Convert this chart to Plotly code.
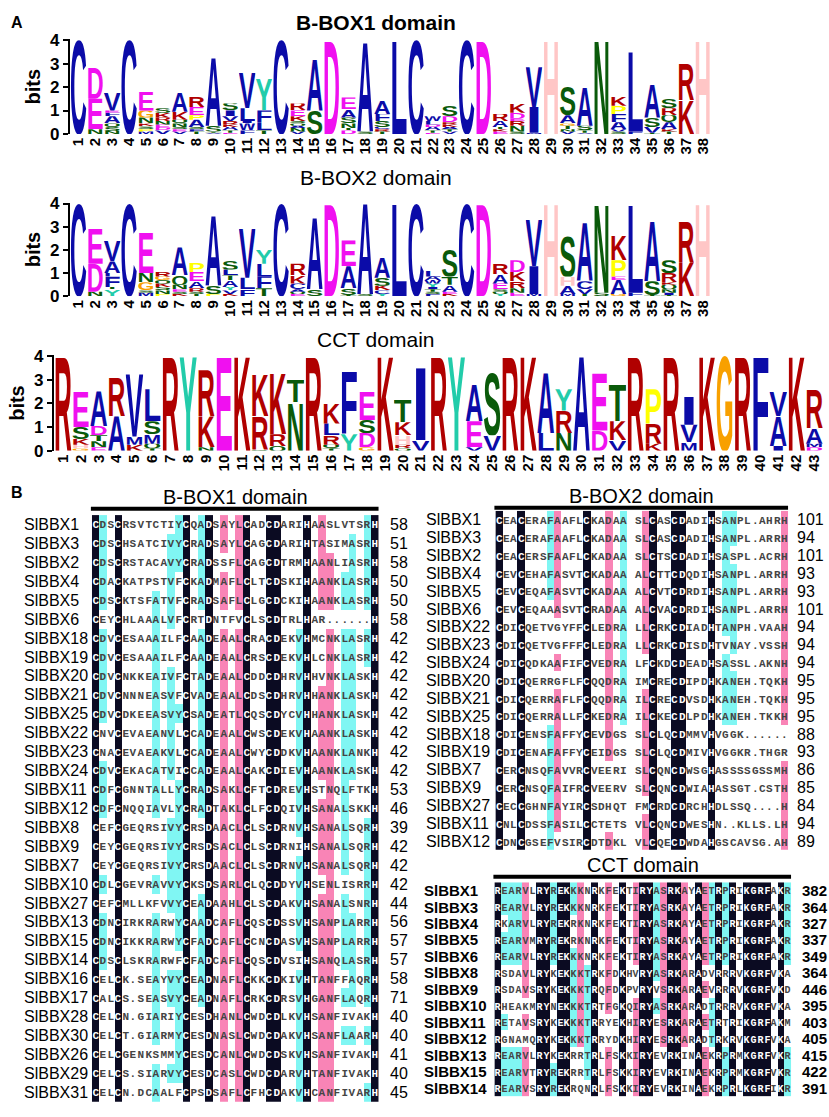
import base64
import plotly.graph_objects as go

W, H = 829, 1117

# ---------------------------------------------------------------- logo data
# one entry per position: residues stacked bottom -> top, height in bits
BBOX1_LOGO = [
    [("C", 4.0)],
    [("N", 0.2), ("E", 1.3), ("D", 1.35)],
    [("N", 0.12), ("S", 0.18), ("Q", 0.15), ("A", 0.3), ("F", 0.15), ("E", 0.1), ("V", 0.75)],
    [("C", 4.0)],
    [("M", 0.1), ("P", 0.1), ("S", 0.12), ("K", 0.13), ("N", 0.25), ("G", 0.3), ("E", 0.8)],
    [("V", 0.15), ("D", 0.1), ("E", 0.15), ("N", 0.15), ("R", 0.15), ("K", 0.2), ("S", 0.2)],
    [("V", 0.1), ("E", 0.1), ("S", 0.1), ("N", 0.15), ("Q", 0.15), ("K", 0.35), ("A", 0.85)],
    [("T", 0.1), ("F", 0.1), ("S", 0.1), ("A", 0.3), ("P", 0.2), ("E", 0.35), ("R", 0.45)],
    [("V", 0.05), ("T", 0.05), ("S", 0.25), ("A", 2.95)],
    [("E", 0.05), ("T", 0.1), ("A", 0.15), ("K", 0.1), ("R", 0.15), ("V", 0.2), ("I", 0.25), ("S", 0.3)],
    [("F", 0.15), ("W", 0.3), ("I", 0.1), ("L", 0.55), ("V", 1.5)],
    [("T", 0.15), ("L", 0.35), ("F", 0.5), ("Y", 1.35)],
    [("C", 4.0)],
    [("V", 0.1), ("N", 0.15), ("A", 0.1), ("Q", 0.1), ("S", 0.1), ("K", 0.2), ("E", 0.25), ("R", 0.3)],
    [("S", 1.0), ("A", 2.2)],
    [("D", 4.0)],
    [("D", 0.15), ("T", 0.1), ("N", 0.2), ("S", 0.25), ("A", 0.35), ("E", 0.5)],
    [("S", 0.1), ("A", 3.8)],
    [("T", 0.1), ("R", 0.1), ("C", 0.1), ("S", 0.25), ("F", 0.3), ("A", 0.55)],
    [("L", 4.0)],
    [("C", 4.0)],
    [("E", 0.05), ("T", 0.1), ("A", 0.15), ("D", 0.1), ("L", 0.15), ("W", 0.2)],
    [("V", 0.1), ("T", 0.1), ("A", 0.1), ("K", 0.1), ("R", 0.1), ("D", 0.25), ("S", 0.45)],
    [("C", 4.0)],
    [("D", 4.0)],
    [("E", 0.1), ("K", 0.1), ("T", 0.1), ("A", 0.25), ("R", 0.3)],
    [("S", 0.1), ("N", 0.25), ("R", 0.2), ("E", 0.1), ("D", 0.25), ("K", 0.4)],
    [("M", 0.05), ("I", 1.1), ("V", 1.7)],
    [("H", 4.0)],
    [("V", 0.1), ("N", 0.1), ("T", 0.15), ("G", 0.1), ("A", 0.35), ("S", 1.2)],
    [("V", 0.05), ("T", 0.1), ("S", 0.2), ("A", 1.65)],
    [("N", 4.0)],
    [("S", 0.1), ("V", 0.1), ("A", 0.3), ("F", 0.35), ("P", 0.35), ("K", 0.4)],
    [("F", 0.1), ("L", 3.45)],
    [("T", 0.05), ("V", 0.25), ("S", 0.4), ("A", 1.45)],
    [("T", 0.1), ("K", 0.1), ("A", 0.3), ("Q", 0.3), ("R", 0.3), ("S", 0.4)],
    [("K", 1.45), ("R", 1.55)],
    [("H", 4.0)],
]

BBOX2_LOGO = [
    [("C", 4.0)],
    [("N", 0.2), ("D", 1.2), ("E", 1.5)],
    [("Y", 0.3), ("T", 0.1), ("F", 0.45), ("L", 0.15), ("A", 0.5), ("V", 0.9)],
    [("C", 4.0)],
    [("M", 0.15), ("S", 0.1), ("G", 0.35), ("N", 0.4), ("E", 1.75)],
    [("P", 0.1), ("N", 0.15), ("S", 0.15), ("K", 0.15), ("Q", 0.15), ("G", 0.15), ("R", 0.2)],
    [("K", 0.1), ("S", 0.1), ("E", 0.1), ("N", 0.2), ("Q", 0.4), ("A", 1.2)],
    [("T", 0.1), ("S", 0.1), ("R", 0.15), ("A", 0.3), ("E", 0.4), ("P", 0.4)],
    [("P", 0.1), ("S", 0.35), ("A", 3.05)],
    [("K", 0.1), ("V", 0.15), ("Y", 0.15), ("A", 0.3), ("T", 0.2), ("L", 0.25), ("S", 0.4)],
    [("F", 0.3), ("L", 0.5), ("V", 2.1)],
    [("T", 0.35), ("F", 0.5), ("L", 0.55), ("Y", 0.6)],
    [("C", 4.0)],
    [("E", 0.1), ("Q", 0.1), ("A", 0.1), ("C", 0.25), ("K", 0.35), ("R", 0.5)],
    [("S", 0.3), ("A", 3.1)],
    [("D", 4.0)],
    [("T", 0.05), ("S", 0.3), ("A", 0.95), ("E", 1.1)],
    [("S", 0.1), ("A", 3.9)],
    [("Y", 0.1), ("C", 0.15), ("K", 0.2), ("S", 0.35), ("A", 0.9)],
    [("L", 4.0)],
    [("C", 4.0)],
    [("F", 0.1), ("S", 0.1), ("T", 0.1), ("I", 0.1), ("Y", 0.15), ("W", 0.15), ("A", 0.15), ("L", 0.3)],
    [("K", 0.1), ("E", 0.1), ("A", 0.3), ("T", 0.35), ("S", 1.15)],
    [("C", 4.0)],
    [("D", 4.0)],
    [("Y", 0.1), ("Q", 0.1), ("S", 0.1), ("E", 0.25), ("A", 0.4), ("R", 0.45)],
    [("E", 0.15), ("N", 0.2), ("R", 0.3), ("K", 0.4), ("D", 0.5)],
    [("M", 0.1), ("I", 1.2), ("V", 2.0)],
    [("H", 4.0)],
    [("M", 0.1), ("A", 0.35), ("H", 0.4), ("S", 1.75)],
    [("T", 0.1), ("V", 0.2), ("C", 0.35), ("A", 2.5)],
    [("S", 0.15), ("N", 3.8)],
    [("G", 0.1), ("A", 0.6), ("E", 0.15), ("P", 0.7), ("K", 1.05)],
    [("F", 0.15), ("L", 3.8)],
    [("T", 0.05), ("S", 0.6), ("A", 2.55)],
    [("T", 0.05), ("I", 0.1), ("N", 0.15), ("Q", 0.2), ("K", 0.1), ("R", 0.4), ("S", 0.55)],
    [("K", 1.45), ("R", 1.8)],
    [("H", 4.0)],
]

CCT_LOGO = [
    [("R", 4.0)],
    [("G", 0.1), ("H", 0.15), ("K", 0.25), ("S", 0.5), ("E", 1.5)],
    [("E", 0.15), ("N", 0.25), ("T", 0.25), ("D", 0.4), ("A", 1.45)],
    [("A", 1.45), ("R", 1.65)],
    [("K", 0.25), ("M", 0.35), ("V", 2.7)],
    [("T", 0.1), ("Q", 0.2), ("M", 0.4), ("S", 0.55), ("L", 1.35)],
    [("R", 4.0)],
    [("Y", 4.0)],
    [("N", 0.15), ("K", 1.3), ("R", 1.95)],
    [("E", 4.0)],
    [("K", 4.0)],
    [("Q", 0.05), ("R", 1.4), ("K", 1.75)],
    [("Q", 0.2), ("R", 0.5), ("K", 2.6)],
    [("N", 2.05), ("T", 0.95)],
    [("R", 4.0)],
    [("T", 0.1), ("Q", 0.15), ("R", 0.4), ("L", 0.5), ("K", 0.85)],
    [("Y", 0.7), ("F", 2.65)],
    [("G", 0.15), ("D", 0.6), ("S", 0.55), ("E", 1.2)],
    [("K", 4.0)],
    [("Q", 0.1), ("R", 0.15), ("H", 0.4), ("K", 0.55), ("T", 0.95)],
    [("V", 0.45), ("I", 3.05)],
    [("R", 4.0)],
    [("Y", 4.0)],
    [("V", 0.15), ("E", 1.1), ("A", 1.55)],
    [("V", 0.65), ("S", 2.65)],
    [("R", 4.0)],
    [("K", 4.0)],
    [("L", 0.75), ("A", 2.55)],
    [("N", 0.75), ("R", 0.95), ("Y", 0.9)],
    [("A", 4.0)],
    [("D", 0.85), ("E", 2.45)],
    [("V", 0.45), ("K", 0.8), ("T", 1.55)],
    [("R", 4.0)],
    [("K", 0.3), ("R", 0.85), ("P", 1.45)],
    [("R", 4.0)],
    [("M", 0.35), ("V", 0.75), ("I", 1.2)],
    [("K", 4.0)],
    [("G", 4.0)],
    [("R", 4.0)],
    [("F", 4.0)],
    [("I", 0.2), ("A", 1.25), ("V", 1.05)],
    [("K", 4.0)],
    [("D", 0.15), ("M", 0.15), ("A", 0.65), ("R", 1.65)],
]

# ---------------------------------------------------------------- alignments
BBOX1_NAMES = ["SlBBX1", "SlBBX3", "SlBBX2", "SlBBX4", "SlBBX5", "SlBBX6", "SlBBX18", "SlBBX19",
               "SlBBX20", "SlBBX21", "SlBBX25", "SlBBX22", "SlBBX23", "SlBBX24", "SlBBX11", "SlBBX12",
               "SlBBX8", "SlBBX9", "SlBBX7", "SlBBX10", "SlBBX27", "SlBBX13", "SlBBX15", "SlBBX14",
               "SlBBX16", "SlBBX17", "SlBBX28", "SlBBX30", "SlBBX26", "SlBBX29", "SlBBX31"]
BBOX1_SEQS = [
    "CDSCRSVTCTIYCQADSAYLCADCDARIHAASLVTSRH",
    "CDSCHSATCIVYCRADSAYLCAGCDARIHTASIMASRH",
    "CDSCRSTACAVYCRADSSFLCAGCDTRMHAANLIASRH",
    "CDACKATPSTVFCKADMAFLCLTCDSKIHAANKLASRH",
    "CDSCKTSFATVFCRADSAFLCLGCDCKIHAANKLASRH",
    "CEYCHLAAALVFCRTDNTFVCLSCDTRLHAR......H",
    "CDVCESAAAILFCAADEAALCRACDEKVHMCNKLASRH",
    "CDVCESAAAILFCAADEAALCRSCDEKVHLCNKLASRH",
    "CDVCNKKEAIVFCTADEAALCDDCDHRVHHVNKLASKH",
    "CDVCNNNEASVFCVADEAALCDSCDHRVHHANKLASKH",
    "CDVCDKEEASVYCSADEATLCQSCDYCVHHANKLASKH",
    "CNVCEVAEANVLCCADEAALCWSCDEKVHAANKLASKH",
    "CNACEVAEAKVLCCADEAALCWYCDDKVHAANKLANKH",
    "CDVCEKACATVICCADEAALCAKCDIEVHAANKLASKH",
    "CDFCGNNTALLYCRADSAKLCFTCDREVHSTNQLFTKH",
    "CDFCNQQIAVLYCRADTAKLCLFCDQIVHSANALSKKH",
    "CEFCGEQRSIVYCRSDAACLCLSCDRNVHSANALSQRH",
    "CEYCGEQRSIVYCRSDSACLCLSCDRNIHSANALSQRH",
    "CEYCGEQRSIVYCRSDAACLCLSCDRNVHSANALSQRH",
    "CDLCGEVRAVVYCKSDSARLCLQCDDYVHSENLISRRH",
    "CEFCMLLKFVVYCEADAAHLCLSCDAKVHSANALSNRH",
    "CDNCIRKRARWYCAADCAFLCQSCDSSVHSANPLARRH",
    "CDNCIKKRARWYCFADCAFLCCNCDASVHSANPLARRH",
    "CDSCLSKRARWFCFADCAFLCQSCDVSIHSANQLASRH",
    "CELCK.SEAYVYCEADNAFLCKKCDKIVHTANFFAQRH",
    "CALCS.SEASVYCEADNAFLCRKCDRSVHGANFLAQRH",
    "CELCN.GIARIYCESDHANLCWDCDLKVHSANFIVAKH",
    "CELCT.GIARMYCESDNASLCWDCDAKVHSANFLAARH",
    "CELCGENKSMMYCESDCANLCWDCDSKVHSANFIVAKH",
    "CELCS.SIARVYCESDCASLCWDCDARVHTANFIVAKH",
    "CELCN.DCAALFCPSDSAFLCFHCDAKVHCANFIVARH",
]
BBOX1_ENDS = [58, 51, 58, 50, 50, 58, 42, 42, 42, 42, 42, 42, 42, 42, 53, 46,
              39, 42, 42, 42, 44, 56, 57, 57, 58, 71, 40, 40, 41, 40, 45]

BBOX2_NAMES = ["SlBBX1", "SlBBX3", "SlBBX2", "SlBBX4", "SlBBX5", "SlBBX6", "SlBBX22", "SlBBX23",
               "SlBBX24", "SlBBX20", "SlBBX21", "SlBBX25", "SlBBX18", "SlBBX19", "SlBBX7", "SlBBX9",
               "SlBBX27", "SlBBX11", "SlBBX12"]
BBOX2_SEQS = [
    "CEACERAFAAFLCKADAA SLCASCDADIHSANPL.AHRH",
    "CEACERAFAAFLCKADAA SLCASCDADIHSANPL.ARRH",
    "CEACERSFAAFLCKADAA SLCTSCDADIHSASPL.ACRH",
    "CEVCEHAFASVTCKADAA ALCTTCDQDIHSANPL.ARRH",
    "CEVCEQAFASVTCKADAA ALCVTCDRDIHSANPL.ARRH",
    "CEVCEQAAASVTCRADAA ALCVACDRDIHSANPL.ARRH",
    "CDICQETVGYFFCLEDRA LLCRKCDIADHTANPH.VAAH",
    "CDICQETVGFFFCLEDRA LLCRKCDISDHTVNAY.VSSH",
    "CDICQDKAAFIFCVEDRA LFCKDCDEADHSASSL.AKNH",
    "CDICQERRGFLFCQQDRA IMCRECDIPDHKANEH.TQKH",
    "CDICQERRAFLFCQQDRA ILCRECDVSDHKANEH.TQKH",
    "CDICQERRALLFCKEDRA ILCKECDLPDHKANEH.TKKH",
    "CDICENSFAFFYCEVDGS SLCLQCDMMVHVGGK......",
    "CDICENAFAFFYCEIDGS SLCLQCDMIVHVGGKR.THGR",
    "CERCNSQFAVVRCVEERI SLCQNCDWSGHASSSSGSSMH",
    "CERCNSQFAIFRCVEERV SLCQNCDWIAHASSGT.CSTH",
    "CECCGHNFAYIRCSDHQT FMCRDCDRCHHDLSSQ....H",
    "CNLCDSSFASILCCTETS VLCQNCDWESHN..KLLS.LH",
    "CDNCGSEFVSIRCDTDKL VLCQECDWDAHGSCAVSG.AH",
]
BBOX2_ENDS = [101, 94, 101, 93, 93, 101, 94, 94, 94, 95, 95, 95, 88, 93, 86, 85, 84, 94, 89]

CCT_NAMES = ["SlBBX1", "SlBBX3", "SlBBX4", "SlBBX5", "SlBBX6", "SlBBX8", "SlBBX9", "SlBBX10",
             "SlBBX11", "SlBBX12", "SlBBX13", "SlBBX15", "SlBBX14"]
CCT_SEQS = [
    "REARVLRYREKKKNRKFEKTIRYASRKAYAETRPRIKGRFAKR",
    "REARVLRYREKKKNRKFEKTIRYASRKAYAETRPRIKGRFAKR",
    "RKARVLRYREKRKNRKFEKTIRYASRKAYAETRPRIKGRFAKR",
    "REARVMRYREKRKNRKFEKTIRYASRKAYAETRPRIKGRFAKR",
    "REARVLRYREKKKNRKFEKTIRYASRKAYAETRPRIKGRFAKR",
    "RSDAVLRYKEKKKTRKFDKHVRYASRKARADVRRRVKGRFVKA",
    "RSDAVSRYKEKKKTRQFDKPVRYVSRKARAEVRRRVKGRFVKD",
    "RHEAKMRYNEKKKTRTFGKQIRYASRKARADTRRRVKGRFVKA",
    "RETAVSRYKEKKKTRRYEKHIRYESRKARAETRTRIKGRFAKM",
    "RGNAMQRYKEKKKTRRYDKHIRYESRKARADTRKRVKGRFVKA",
    "REARVLRYKEKRRTRLFSKKIRYEVRKINAEKRPRMKGRFVKR",
    "REARVTRYREKRRTRLFSKKIRYEVRKINAEKRPRMKGRFVKR",
    "REARVSRYREKRQNRLFSKKIRYEVRKINAEKRPRLKGRFIKR",
]
CCT_ENDS = [382, 364, 327, 337, 349, 364, 446, 395, 403, 405, 415, 422, 391]

# ---------------------------------------------------------------- styling
LOGO_COLORS = {**dict.fromkeys("ACFILMVW", "#0b0ba8"), **dict.fromkeys("NQST", "#0a5a0a"),
               **dict.fromkeys("DE", "#f010f0"), **dict.fromkeys("KR", "#b00000"),
               "H": "#ffc6c6", "G": "#f8a000", "P": "#ffff00", "Y": "#22ccaa"}
SANS = "Liberation Sans, Arial, sans-serif"
BLACK_CELL, PINK_CELL, CYAN_CELL = "#0b0b22", "#f984b6", "#80f6f3"


def px(x):
    return x / W


def py(y):
    return 1 - y / H


_glyphs = {}


def glyph(letter):
    # a stretchable letter: the svg is drawn without keeping its aspect ratio
    if letter not in _glyphs:
        svg = ('<svg xmlns="http://www.w3.org/2000/svg" viewBox="0 0 100 70" preserveAspectRatio="none">'
               f'<text x="0" y="70" font-family="Liberation Sans, Arial, sans-serif" font-weight="bold" '
               f'font-size="100" textLength="100" lengthAdjust="spacingAndGlyphs" '
               f'fill="{LOGO_COLORS[letter]}">{letter}</text></svg>')
        _glyphs[letter] = "data:image/svg+xml;base64," + base64.b64encode(svg.encode()).decode()
    return _glyphs[letter]


def shading(seqs):
    # DNAMAN style: 100% identity black, >=75% pink, >=50% cyan
    n = len(seqs)
    z = [[0] * len(seqs[0]) for _ in seqs]
    for j in range(len(seqs[0])):
        col = [s[j] for s in seqs]
        counts = {}
        for c in col:
            if c.isalpha():
                counts[c] = counts.get(c, 0) + 1
        if not counts:
            continue
        cons, k = max(counts.items(), key=lambda t: t[1])
        f = k / n
        lvl = 3 if f == 1 else 2 if f >= 0.75 else 1 if f >= 0.5 else 0
        for i, c in enumerate(col):
            if c == cons:
                z[i][j] = lvl
    return z


fig = go.Figure()
images, annotations, shapes = [], [], []


def axnames(n):
    return ("x", "y", "xaxis", "yaxis") if n == 1 else (f"x{n}", f"y{n}", f"xaxis{n}", f"yaxis{n}")


def add_logo(n, stacks, x0, x1, ybot, ytop, title, title_y, bold):
    xr, yr, xk, yk = axnames(n)
    totals = [sum(h for _, h in st) for st in stacks]
    fig.add_trace(go.Scatter(x=list(range(1, len(stacks) + 1)), y=totals, xaxis=xr, yaxis=yr,
                             mode="markers", marker=dict(opacity=0), hoverinfo="skip", showlegend=False))
    for i, st in enumerate(stacks, start=1):
        base = 0
        for letter, h in st:
            images.append(dict(source=glyph(letter), xref=xr, yref=yr, x=i - 0.5, y=base + h,
                               sizex=1, sizey=h, xanchor="left", yanchor="top",
                               sizing="stretch", layer="above"))
            base += h
    fig.layout[xk] = dict(domain=[px(x0), px(x1)], anchor=yr, range=[0.5, len(stacks) + 0.5],
                          showgrid=False, zeroline=False, showline=False, ticks="",
                          tickmode="array", tickvals=list(range(1, len(stacks) + 1)),
                          ticktext=[str(i) for i in range(1, len(stacks) + 1)], tickangle=-90,
                          tickfont=dict(family=SANS, size=15, color="black", weight="bold"))
    fig.layout[yk] = dict(domain=[py(ybot), py(ytop)], anchor=xr, range=[0, 4.03],
                          showgrid=False, zeroline=False, showline=True, linecolor="black", linewidth=2,
                          ticks="outside", ticklen=5, tickwidth=2, tickcolor="black",
                          tickvals=[0, 1, 2, 3, 4],
                          tickfont=dict(family=SANS, size=17, color="black", weight="bold"),
                          title=dict(text="bits", standoff=4,
                                     font=dict(family=SANS, size=20, color="black", weight="bold")))
    annotations.append(dict(text=title, xref="paper", yref="paper", x=px(375), y=py(title_y),
                            showarrow=False, xanchor="center", yanchor="middle",
                            font=dict(family=SANS, size=21, color="black",
                                      weight="bold" if bold else "normal")))


def add_alignment(n, names, seqs, ends, x0, x1, ytop, ybot, name_x, end_x, title, bar_y, fsize, bold):
    xr, yr, xk, yk = axnames(n)
    z = shading(seqs)
    fig.add_trace(go.Heatmap(
        z=z, text=[list(s) for s in seqs], texttemplate="%{text}", xaxis=xr, yaxis=yr,
        textfont=dict(family="Liberation Mono, monospace", size=fsize, weight="bold"),
        zmin=0, zmax=3, showscale=False, hoverinfo="skip",
        colorscale=[[0, "white"], [0.166, "white"], [0.166, CYAN_CELL], [0.5, CYAN_CELL],
                    [0.5, PINK_CELL], [0.833, PINK_CELL], [0.833, BLACK_CELL], [1, BLACK_CELL]]))
    fig.layout[xk] = dict(domain=[px(x0), px(x1)], anchor=yr, range=[-0.5, len(seqs[0]) - 0.5],
                          visible=False)
    fig.layout[yk] = dict(domain=[py(ybot), py(ytop)], anchor=xr, range=[len(seqs) - 0.5, -0.5],
                          visible=False)
    font = dict(family=SANS, size=15 if bold else 16, color="black", weight="bold" if bold else "normal")
    for i, (nm, e) in enumerate(zip(names, ends)):
        annotations.append(dict(text=nm, xref="paper", yref=yr, x=px(name_x), y=i, showarrow=False,
                                xanchor="left", yanchor="middle", font=font))
        annotations.append(dict(text=str(e), xref="paper", yref=yr, x=px(end_x), y=i, showarrow=False,
                                xanchor="left", yanchor="middle", font=font))
    annotations.append(dict(text=title, xref="paper", yref="paper", x=px((x0 + x1) / 2), y=py(bar_y - 12),
                            showarrow=False, xanchor="center", yanchor="middle",
                            font=dict(family=SANS, size=20, color="black")))
    shapes.append(dict(type="line", xref="paper", yref="paper", x0=px(x0 - 1), x1=px(x1),
                       y0=py(bar_y), y1=py(bar_y), line=dict(color="black", width=4)))


add_logo(1, BBOX1_LOGO, 69, 711, 128, 32, "B-BOX1 domain", 15, True)
add_logo(2, BBOX2_LOGO, 69, 711, 293, 198, "B-BOX2 domain", 172, False)
add_logo(3, CCT_LOGO, 53, 823, 450, 353, "CCT domain", 337, False)

add_alignment(4, BBOX1_NAMES, BBOX1_SEQS, BBOX1_ENDS, 91, 378, 515.4, 1111.6, 21, 387,
              "B-BOX1 domain", 509, 11, False)
add_alignment(5, BBOX2_NAMES, BBOX2_SEQS, BBOX2_ENDS, 495, 788, 511, 856, 424, 795,
              "B-BOX2 domain", 508, 11, False)
add_alignment(6, CCT_NAMES, CCT_SEQS, CCT_ENDS, 494, 791, 888.6, 1106.4, 422, 800,
              "CCT domain", 883, 10, True)

for lab, yy in (("A", 15), ("B", 492)):
    annotations.append(dict(text=lab, xref="paper", yref="paper", x=px(8), y=py(yy), showarrow=False,
                            xanchor="left", yanchor="middle",
                            font=dict(family=SANS, size=16, color="black", weight="bold")))

fig.update_layout(width=W, height=H, margin=dict(l=0, r=0, t=0, b=0),
                  paper_bgcolor="white", plot_bgcolor="white", showlegend=False,
                  images=images, annotations=annotations, shapes=shapes)

# the page body has a default margin; drop it so the figure sits at the window origin
fig.write_html("out.html", config={"displayModeBar": False},
               post_script="document.body.style.margin='0';")
